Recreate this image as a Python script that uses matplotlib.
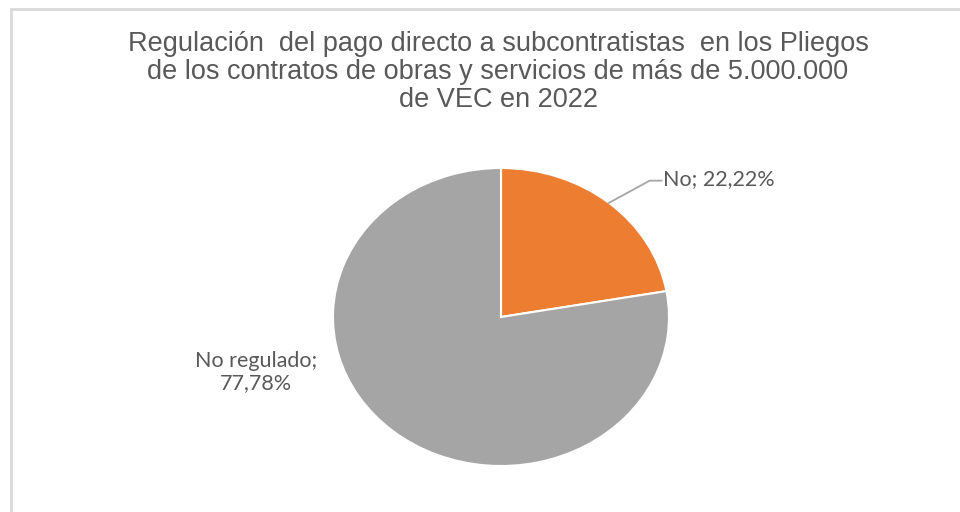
import numpy as np
import matplotlib.pyplot as plt
from matplotlib.patches import Rectangle

# Datos del gráfico
categorias = ["No", "No regulado"]
porcentajes = [22.22, 77.78]
colores = ["#ED7D31", "#A5A5A5"]
titulo = ("Regulación  del pago directo a subcontratistas  en los Pliegos\n"
          "de los contratos de obras y servicios de más de 5.000.000\n"
          "de VEC en 2022")

gris_texto = "#595959"

fig = plt.figure(figsize=(9.6, 5.12), dpi=100)

# Marco del gráfico (sólo se ven los bordes superior e izquierdo)
fig.patches.append(Rectangle((11 / 960, -0.1), 1.2, (512 - 9) / 512 + 0.1,
                             transform=fig.transFigure, fill=False,
                             edgecolor="#D9D9D9", linewidth=2))

fig.text(498 / 960, 1 - 72 / 512, titulo, ha="center", va="center",
         fontsize=19.5, color=gris_texto, family="Liberation Sans",
         linespacing=1.1)

# Ejes para la tarta (ligeramente elíptica como en el original)
ax = fig.add_axes([333 / 960, 46 / 512, 336 / 960, 298 / 512])
wedges, _ = ax.pie(porcentajes, colors=colores, startangle=90, counterclock=False,
                   wedgeprops=dict(edgecolor="white", linewidth=1.5))
ax.set_aspect("auto")
ax.set_xlim(-1, 1)
ax.set_ylim(-1, 1)
ax.axis("off")

def fmt(v):
    return f"{v:.2f}".replace(".", ",") + "%"

# Etiqueta con línea guía para "No"
w = wedges[0]
ang = np.deg2rad((w.theta1 + w.theta2) / 2)
x0, y0 = np.cos(ang), np.sin(ang)
ax.plot([x0, 0.885, 0.955], [y0, 0.915, 0.915], color="#A6A6A6",
        linewidth=1.3, clip_on=False)
ax.text(0.962, 0.925, f"{categorias[0]}; {fmt(porcentajes[0])}", ha="left",
        va="center", fontsize=15.5, color=gris_texto, family="Lato", clip_on=False)

# Etiqueta para "No regulado"
ax.text(-1.46, -0.37, f"{categorias[1]};\n{fmt(porcentajes[1])}", ha="center",
        va="center", fontsize=15.5, color=gris_texto, family="Lato",
        linespacing=1.12, clip_on=False)

fig.savefig("out.png", dpi=100)
